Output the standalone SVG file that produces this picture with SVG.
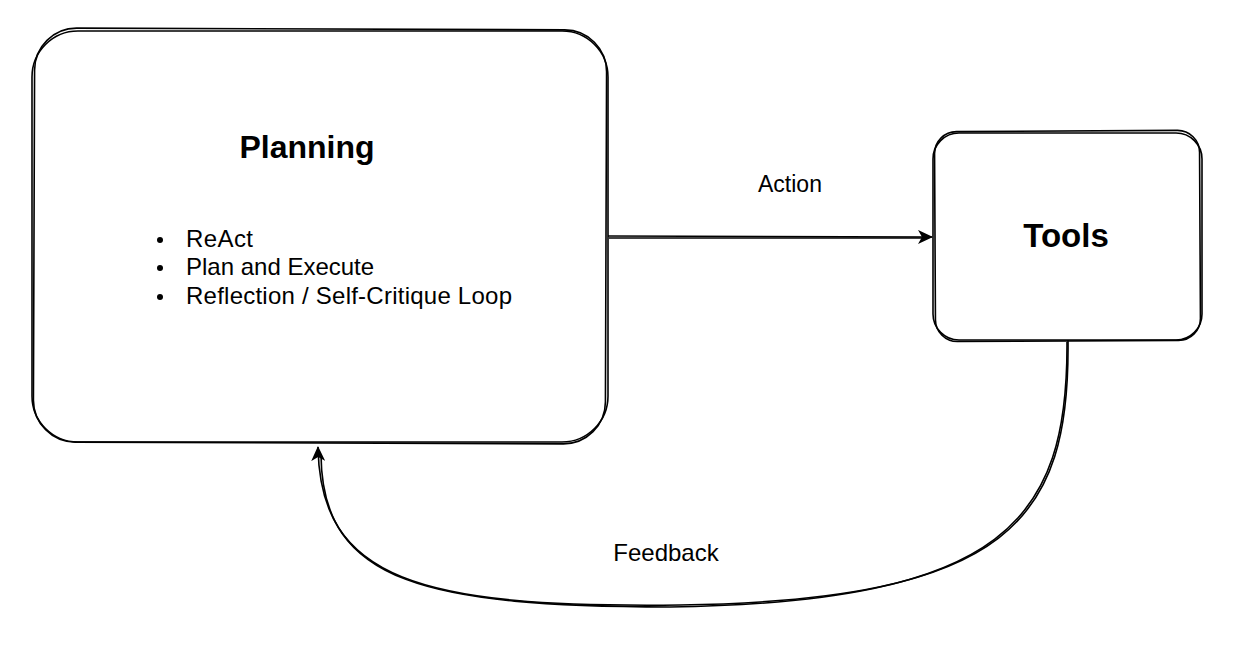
<svg xmlns="http://www.w3.org/2000/svg" width="1234" height="646" viewBox="0 0 1234 646">
<style>
.sk{fill:none;stroke:#000;stroke-width:1.6}
.t{font-family:"Liberation Sans",Arial,sans-serif;fill:#000}
.b{font-weight:bold}
</style>
<defs>
<marker id="ah" markerWidth="16" markerHeight="14" refX="14" refY="7" orient="auto" markerUnits="userSpaceOnUse">
<path d="M0,0 L15,7 L0,14 L4,7 Z" fill="#000"/>
</marker>
</defs>
<rect width="1234" height="646" fill="#fff"/>
<g id="planning">
<rect class="sk" x="32" y="31" width="576" height="411" rx="46"/>
<rect class="sk" x="34" y="29" width="572" height="414" rx="42" transform="rotate(0.2 320 236)"/>
<text class="t b" x="307" y="158" font-size="32" text-anchor="middle">Planning</text>
<circle cx="160" cy="240" r="3"/><circle cx="160" cy="268" r="3"/><circle cx="160" cy="297" r="3"/>
<text class="t" x="186" y="247" font-size="24" textLength="67">ReAct</text>
<text class="t" x="186" y="275" font-size="24">Plan and Execute</text>
<text class="t" x="186" y="304" font-size="24" textLength="326">Reflection / Self-Critique Loop</text>
</g>
<g id="tools">
<rect class="sk" x="933" y="133" width="269" height="207" rx="26"/>
<rect class="sk" x="935" y="131" width="265" height="210" rx="22" transform="rotate(-0.3 1067 236)"/>
<text class="t b" x="1066" y="247" font-size="33" text-anchor="middle">Tools</text>
</g>
<g id="connectors">
<path class="sk" d="M608,236 L932,237" marker-end="url(#ah)"/>
<path class="sk" d="M609,238 L928,238"/>
<text class="t" x="790" y="192" font-size="23" text-anchor="middle">Action</text>
<path class="sk" d="M1068,340 C1070,520 1010,600 680,605 C420,608 320,580 318,447" marker-end="url(#ah)"/>
<path class="sk" d="M1067,342 C1068,520 1005,602 670,607 C430,606 322,585 321,455"/>
<text class="t" x="666" y="561" font-size="24" text-anchor="middle">Feedback</text>
</g>
</svg>
